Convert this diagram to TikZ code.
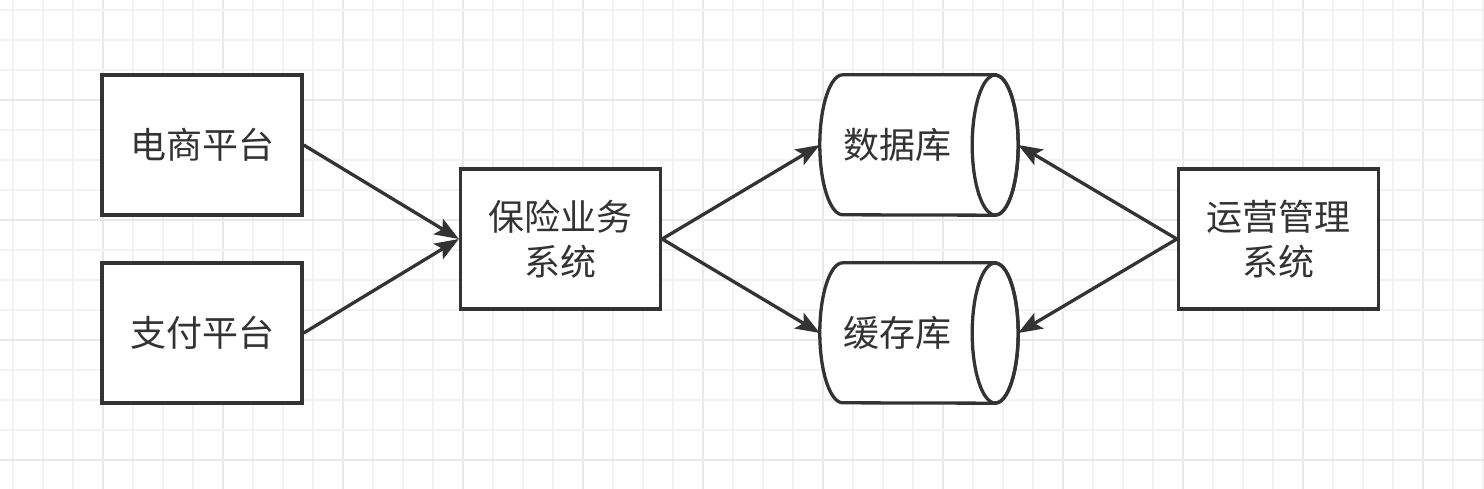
\documentclass[tikz,border=0pt]{standalone}
\usepackage{fontspec}
\newfontfamily\cjk{Noto Sans CJK SC}
\usetikzlibrary{arrows.meta}
\definecolor{ink}{HTML}{333333}
\definecolor{gridminor}{HTML}{F2F2F2}
\definecolor{gridmajor}{HTML}{E8E8E8}
\begin{document}
\begin{tikzpicture}[x=1pt,y=-1pt,
  box/.style={draw=ink,line width=3.3pt,fill=white,minimum width=200pt,minimum height=140pt,inner sep=0pt,font=\cjk\fontsize{36}{45}\selectfont,text=ink,align=center},
  dbarea/.style={minimum width=198pt,minimum height=140pt,inner sep=0pt},
  cyl/.style={draw=ink,line width=3.3pt,fill=white},
  lbl/.style={font=\cjk\fontsize{36}{45}\selectfont,text=ink},
  conn/.style={draw=ink,line width=3.3pt,-{Stealth[length=24pt,width=18pt,inset=5pt]}}]
\useasboundingbox (0,0) rectangle (1484,489);
\fill[white] (0,0) rectangle (1484,489);
% grid
\foreach \i in {0,...,49} {
  \pgfmathsetmacro{\gx}{13+30*\i}
  \pgfmathtruncatemacro{\mj}{mod(\i,4)==3 ? 1 : 0}
  \ifnum\mj=1 \draw[gridmajor,line width=1.2pt] (\gx,0) -- (\gx,489);
  \else \draw[gridminor,line width=1.2pt] (\gx,0) -- (\gx,489); \fi
}
\foreach \j in {0,...,16} {
  \pgfmathsetmacro{\gy}{10+30*\j}
  \pgfmathtruncatemacro{\mj}{mod(\j,4)==3 ? 1 : 0}
  \ifnum\mj=1 \draw[gridmajor,line width=1.2pt] (0,\gy) -- (1484,\gy);
  \else \draw[gridminor,line width=1.2pt] (0,\gy) -- (1484,\gy); \fi
}
% boxes
\node[box] (ec) at (202,145) {电商平台};
\node[box] (pay) at (202,333) {支付平台};
\node[box] (ins) at (560.5,239) {\raisebox{-2pt}{保险业务}\\\raisebox{-2pt}{系统}};
\node[box] (ops) at (1278.5,239) {\raisebox{-2pt}{运营管理}\\\raisebox{-2pt}{系统}};
% cylinders
\node[dbarea] (db) at (919,145) {};
\node[dbarea] (cache) at (919,333) {};
\foreach \c in {db,cache} {
  \path[cyl] ([xshift=-23pt]\c.north east) -- ([xshift=23pt]\c.north west)
    arc[start angle=90,end angle=270,x radius=23pt,y radius=70pt]
    -- ([xshift=-23pt]\c.south east)
    arc[start angle=-90,end angle=90,x radius=23pt,y radius=70pt] -- cycle;
  \draw[draw=ink,line width=3.3pt] ([xshift=-23pt]\c.east) ellipse[x radius=23pt,y radius=70pt];
}
\node[lbl] at (897,145) {数据库};
\node[lbl] at (897,333) {缓存库};
% connectors
\draw[conn] (ec.east) -- (ins.west);
\draw[conn] (pay.east) -- (ins.west);
\draw[conn] (ins.east) -- (db.west);
\draw[conn] (ins.east) -- (cache.west);
\draw[conn] (ops.west) -- (db.east);
\draw[conn] (ops.west) -- (cache.east);
\end{tikzpicture}
\end{document}
